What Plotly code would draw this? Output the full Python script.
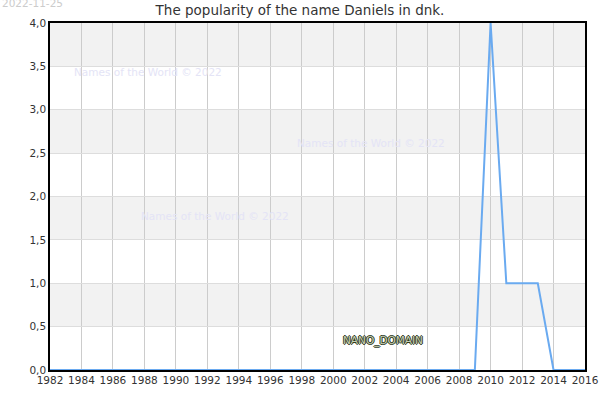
import plotly.graph_objects as go

years = list(range(1982, 2017))
popularity = [0] * 28 + [4, 1, 1, 1, 0, 0, 0]  # 1982-2009 zero, then 2010-2016

x_ticks = list(range(1982, 2017, 2))
y_ticks = [0, 0.5, 1, 1.5, 2, 2.5, 3, 3.5, 4]

title_text = "The popularity of the name Daniels in dnk."
stamp_text = "2022-11-25"
watermark = "Names of the World © 2022"

fig = go.Figure()
fig.add_trace(
    go.Scatter(
        x=years,
        y=popularity,
        mode="lines",
        line=dict(color="#6aaaf0", width=2),
        hoverinfo="x+y",
    )
)

# alternating grey bands
for lo in [3.5, 2.5, 1.5, 0.5]:
    fig.add_shape(
        type="rect", xref="paper", yref="y", x0=0, x1=1, y0=lo, y1=lo + 0.5,
        fillcolor="#f2f2f2", line=dict(width=0), layer="below",
    )

annotations = [
    dict(text=stamp_text, xref="paper", yref="paper", x=-50 / 535, y=1 + 20 / 347,
         xanchor="left", yanchor="middle", showarrow=False,
         font=dict(size=10.5, color="#cccccc")),
]
for wx, wy in [(0.183, 0.859), (0.6, 0.654), (0.308, 0.444)]:
    annotations.append(
        dict(text=watermark, xref="paper", yref="paper", x=wx, y=wy,
             xanchor="center", yanchor="middle", showarrow=False,
             font=dict(size=10.5, color="#e4e4f6"))
    )
annotations.append(
    dict(text="NANO_DOMAIN", xref="paper", yref="paper", x=0.622, y=0.086,
         xanchor="center", yanchor="middle", showarrow=False,
         font=dict(size=10.5, color="#c9d1b4",
                   shadow="-1px 0 #2e3a1e, 1px 0 #2e3a1e, 0 1px #2e3a1e, 0 -1px #2e3a1e"))
)

fig.update_layout(
    width=600,
    height=400,
    margin=dict(l=50, r=15, t=23, b=30, autoexpand=False),
    paper_bgcolor="white",
    plot_bgcolor="white",
    showlegend=False,
    separators=", ",
    font=dict(family="DejaVu Sans", size=10.5, color="#333333"),
    title=dict(text=title_text, x=0.5, xanchor="center", y=0.975, yanchor="middle",
               font=dict(size=13.5, color="#333333")),
    annotations=annotations,
    xaxis=dict(
        range=[1982, 2016],
        tickvals=x_ticks,
        tickangle=0,
        automargin=False,
        showgrid=True,
        gridcolor="#cccccc",
        gridwidth=1,
        showline=True,
        linecolor="black",
        linewidth=1.5,
        mirror=True,
        zeroline=False,
        ticks="",
    ),
    yaxis=dict(
        range=[0, 4],
        tickvals=y_ticks,
        tickformat=".1f",
        automargin=False,
        showgrid=True,
        gridcolor="#dddddd",
        gridwidth=1,
        showline=True,
        linecolor="black",
        linewidth=1.5,
        mirror=True,
        zeroline=False,
        ticks="",
    ),
)

# drop the default body margin so the figure sits at the page corner
fig.write_html(
    "out.html",
    config={"displayModeBar": False},
    post_script="document.body.style.margin='0';",
)
